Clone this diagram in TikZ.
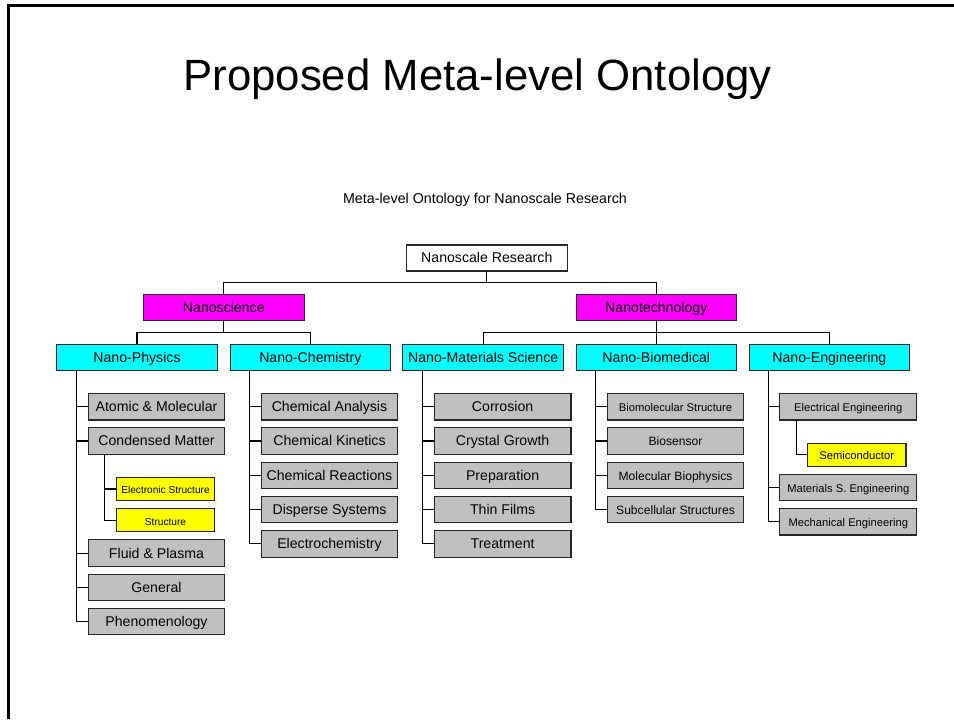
\documentclass[tikz,border=0pt]{standalone}
\usepackage{fontspec}
\setmainfont{Liberation Sans}
\definecolor{topicpink}{RGB}{255,0,255}
\definecolor{fieldcyan}{RGB}{0,255,255}
\definecolor{subgray}{RGB}{192,192,192}
\definecolor{leafyellow}{RGB}{255,255,0}
\begin{document}
\begin{tikzpicture}[x=0.75pt,y=-0.75pt,
  box/.style={draw=black!85,line width=0.8pt,inner sep=0pt,outer sep=0pt,
    text height=0.72em,text depth=0pt,font=\fontsize{10.6}{12}\selectfont},
  rootbox/.style={box,fill=white,minimum width=120.4pt,minimum height=19.5pt},
  topicbox/.style={rootbox,fill=topicpink},
  fieldbox/.style={rootbox,fill=fieldcyan},
  subbox/.style={box,fill=subgray,minimum width=102.6pt,minimum height=19.9pt},
  leafbox/.style={box,fill=leafyellow,minimum width=73.9pt,minimum height=17.4pt,
    font=\fontsize{7.6}{9}\selectfont},
  small/.style={font=\fontsize{8.4}{10}\selectfont},
  link/.style={draw=black,line width=0.8pt}]
\useasboundingbox (0,0) rectangle (954,719);
\draw[line width=2pt] (8.5,719) -- (8.5,5.5) -- (954,5.5);

\node[font=\fontsize{32.8}{38}\selectfont,anchor=base] (title) at (477.5,90) {Proposed Meta-level Ontology};
\node[font=\fontsize{10.7}{13}\selectfont,anchor=base] (caption) at (485,203) {Meta-level Ontology for Nanoscale Research};

\node[rootbox] (research) at (486.8,258) {Nanoscale Research};
\node[topicbox] (nanosci) at (223.8,307.3) {Nanoscience};
\node[topicbox] (nanotech) at (656.3,307.3) {Nanotechnology};

\node[fieldbox] (phys) at (137,357.2) {Nano-Physics};
\node[fieldbox] (chem) at (310.3,357.2) {Nano-Chemistry};
\node[fieldbox] (mat) at (483.2,357.2) {Nano-Materials Science};
\node[fieldbox] (bio) at (656.3,357.2) {Nano-Biomedical};
\node[fieldbox] (eng) at (829.3,357.2) {Nano-Engineering};

\node[subbox] (atomic) at (156.5,406.7) {Atomic \& Molecular};
\node[subbox] (condensed) at (156.5,441) {Condensed Matter};
\node[leafbox] (elec) at (165.5,489) {Electronic Structure};
\node[leafbox] (struct) at (165.5,520.3) {Structure};
\node[subbox] (fluid) at (156.5,553.2) {Fluid \& Plasma};
\node[subbox] (general) at (156.5,587.3) {General};
\node[subbox] (phenom) at (156.5,621.5) {Phenomenology};

\node[subbox] (analysis) at (329.5,406.7) {Chemical Analysis};
\node[subbox] (kinetics) at (329.5,441) {Chemical Kinetics};
\node[subbox] (reactions) at (329.5,475.3) {Chemical Reactions};
\node[subbox] (disperse) at (329.5,509.6) {Disperse Systems};
\node[subbox] (electro) at (329.5,543.9) {Electrochemistry};

\node[subbox] (corrosion) at (502.6,406.7) {Corrosion};
\node[subbox] (crystal) at (502.6,441) {Crystal Growth};
\node[subbox] (prep) at (502.6,475.3) {Preparation};
\node[subbox] (thin) at (502.6,509.6) {Thin Films};
\node[subbox] (treat) at (502.6,543.9) {Treatment};

\node[subbox,small] (biomol) at (675.5,406.7) {Biomolecular Structure};
\node[subbox,font=\fontsize{9.1}{11}\selectfont] (biosens) at (675.5,441) {Biosensor};
\node[subbox,font=\fontsize{9.1}{11}\selectfont] (molbio) at (675.5,475.3) {Molecular Biophysics};
\node[subbox,font=\fontsize{9.1}{11}\selectfont] (subcell) at (675.5,509.6) {Subcellular Structures};

\node[subbox,small] (elect) at (848.3,406.7) {Electrical Engineering};
\node[leafbox,small] (semi) at (856.7,454.8) {Semiconductor};
\node[subbox,small] (matseng) at (848.3,487.3) {Materials S. Engineering};
\node[subbox,small] (mecheng) at (848.3,521.7) {Mechanical Engineering};

\foreach \t in {nanosci,nanotech}
  \draw[link] (research.south) -- ++(0,11.5) -| (\t.north);
\foreach \f in {phys,chem}
  \draw[link] (nanosci.south) -- ++(0,12) -| (\f.north);
\foreach \f in {mat,bio,eng}
  \draw[link] (nanotech.south) -- ++(0,12) -| (\f.north);

\foreach \k in {atomic,condensed,fluid,general,phenom}
  \draw[link] (phys.south west) ++(20,0) |- (\k.west);
\foreach \k in {elec,struct}
  \draw[link] (condensed.south west) ++(16.4,0) |- (\k.west);
\foreach \k in {analysis,kinetics,reactions,disperse,electro}
  \draw[link] (chem.south west) ++(19.5,0) |- (\k.west);
\foreach \k in {corrosion,crystal,prep,thin,treat}
  \draw[link] (mat.south west) ++(20,0) |- (\k.west);
\foreach \k in {biomol,biosens,molbio,subcell}
  \draw[link] (bio.south west) ++(19.5,0) |- (\k.west);
\foreach \k in {elect,matseng,mecheng}
  \draw[link] (eng.south west) ++(19.5,0) |- (\k.west);
\draw[link] (elect.south west) ++(16.7,0) |- (semi.west);
\end{tikzpicture}
\end{document}
